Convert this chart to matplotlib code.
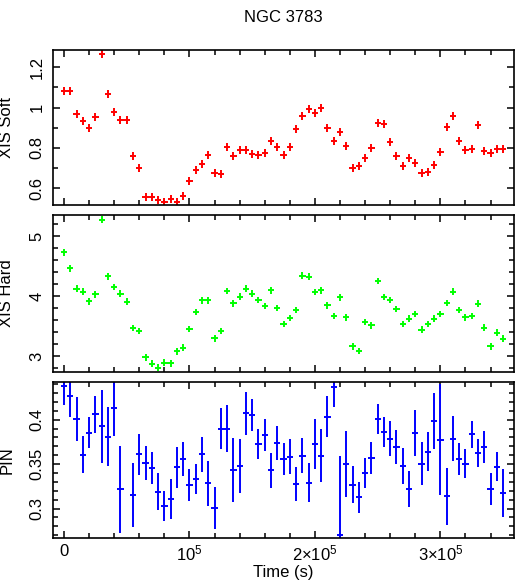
import numpy as np
import matplotlib
matplotlib.use('Agg')
import matplotlib.pyplot as plt
import matplotlib.ticker as ticker

# -------------------- Dados --------------------
# bins de 5 ks, de 0 a 350 ks
time_bin = 5000
n_bins = 71
time = np.arange(n_bins) * time_bin

xis_soft = [1.084, 1.084, 0.967, 0.934, 0.899, 0.955, 1.266, 1.066, 0.977, 0.939,
            0.939, 0.760, 0.701, 0.559, 0.559, 0.542, 0.531, 0.549, 0.534, 0.560,
            0.635, 0.689, 0.722, 0.764, 0.676, 0.673, 0.807, 0.760, 0.790, 0.790,
            0.772, 0.764, 0.775, 0.835, 0.803, 0.767, 0.807, 0.896, 0.960, 0.995,
            0.972, 0.997, 0.901, 0.836, 0.881, 0.812, 0.701, 0.712, 0.752, 0.798,
            0.924, 0.921, 0.828, 0.762, 0.712, 0.752, 0.726, 0.676, 0.681, 0.714,
            0.782, 0.902, 0.960, 0.835, 0.790, 0.793, 0.916, 0.787, 0.777, 0.793,
            0.793]
xis_soft_err = 0.02

xis_hard = [4.729, 4.464, 4.122, 4.077, 3.912, 4.028, 5.271, 4.331, 4.149, 4.039,
            3.906, 3.470, 3.420, 2.983, 2.878, 2.812, 2.895, 2.884, 3.083, 3.144,
            3.453, 3.735, 3.928, 3.928, 3.298, 3.420, 4.083, 3.878, 3.994, 4.127,
            4.044, 3.934, 3.834, 4.094, 3.801, 3.536, 3.635, 3.768, 4.343, 4.326,
            4.072, 4.094, 3.845, 3.669, 3.978, 3.646, 3.166, 3.088, 3.569, 3.514,
            4.254, 3.983, 3.934, 3.785, 3.536, 3.624, 3.702, 3.442, 3.536, 3.624,
            3.702, 3.884, 4.077, 3.768, 3.646, 3.669, 3.873, 3.475, 3.166, 3.392,
            3.293]
xis_hard_err = 0.055

nan = np.nan
pin = [0.4379, 0.4267, 0.4008, 0.3606, 0.3854, 0.4060, 0.3925, 0.3809, 0.4135, 0.3219,
       nan, 0.3148, 0.3610, 0.3512, 0.3452, 0.3189, 0.3032, 0.3107, 0.3463, 0.3557,
       0.3268, 0.3332, 0.3610, 0.3283, 0.3005, 0.3899, 0.3899, 0.3437, 0.3478, 0.4071,
       0.4053, 0.3726, 0.3824, 0.3429, 0.3733, 0.3561, 0.3583, 0.3276, 0.3595, 0.3291,
       0.3722, 0.3595, 0.4034, 0.4372, 0.2705, 0.3501, 0.3268, 0.3125, 0.3396, 0.3568,
       0.4011, 0.3861, 0.3786, 0.3692, 0.3478, 0.3223, 0.3850, 0.3505, 0.3640, 0.3985,
       0.3775, 0.3140, 0.3786, 0.3557, 0.3505, 0.3835, 0.3625, 0.3692, 0.3223, 0.3471,
       0.3170]
pin_err = [0.021, 0.024, 0.025, 0.021, 0.017, 0.021, 0.041, 0.033, 0.032, 0.049,
           nan, 0.036, 0.023, 0.019, 0.018, 0.021, 0.017, 0.022, 0.023, 0.019,
           0.018, 0.017, 0.020, 0.025, 0.024, 0.023, 0.026, 0.036, 0.030, 0.024,
           0.018, 0.017, 0.018, 0.020, 0.019, 0.018, 0.020, 0.019, 0.020, 0.022,
           0.028, 0.030, 0.023, 0.023, 0.089, 0.037, 0.021, 0.017, 0.017, 0.018,
           0.017, 0.017, 0.020, 0.019, 0.020, 0.020, 0.026, 0.024, 0.022, 0.031,
           0.062, 0.032, 0.025, 0.018, 0.016, 0.015, 0.016, 0.018, 0.018, 0.016,
           0.027]

x_ticks = [0, 1e5, 2e5, 3e5]
x_tick_labels = ['0', '$10^5$', '2×$10^5$', '3×$10^5$']

# -------------------- Estilo --------------------
plt.rcParams['font.family'] = ['Liberation Sans', 'DejaVu Sans']
plt.rcParams['mathtext.fontset'] = 'custom'
plt.rcParams['mathtext.rm'] = 'Liberation Sans'
plt.rcParams['mathtext.it'] = 'Liberation Sans:italic'
plt.rcParams['font.size'] = 12

fig = plt.figure(figsize=(5.17, 5.81), dpi=100)

left, width = 53 / 517, 461 / 517
ax1 = fig.add_axes([left, 1 - 205 / 581, width, 155 / 581])
ax2 = fig.add_axes([left, 1 - 372 / 581, width, 157 / 581])
ax3 = fig.add_axes([left, 1 - 538 / 581, width, 156 / 581])

paineis = [
    (ax1, xis_soft, xis_soft_err, '#ff0000', 'XIS Soft', (0.517, 1.286), 0.2, 0.1),
    (ax2, xis_hard, xis_hard_err, '#00ff00', 'XIS Hard', (2.74, 5.348), 1.0, 0.2),
    (ax3, pin, pin_err, '#0000ff', 'PIN', (0.2669, 0.4423), 0.05, 0.01),
]

for ax, y, yerr, cor, nome, ylim, major, minor in paineis:
    ax.errorbar(time, y, xerr=time_bin / 2, yerr=yerr, fmt='none',
                ecolor=cor, elinewidth=1.4, capsize=0)
    ax.set_xlim(-8800, 358700)
    ax.set_ylim(*ylim)
    ax.xaxis.set_major_locator(ticker.FixedLocator(x_ticks))
    ax.xaxis.set_minor_locator(ticker.MultipleLocator(2e4))
    ax.yaxis.set_major_locator(ticker.MultipleLocator(major))
    ax.yaxis.set_minor_locator(ticker.MultipleLocator(minor))
    ax.yaxis.set_major_formatter(ticker.FuncFormatter(lambda v, p: f'{v:g}'))
    ax.tick_params(which='both', direction='in', top=True, right=True, width=1.1)
    ax.tick_params(which='major', length=5)
    ax.tick_params(which='minor', length=3.5)
    ax.tick_params(axis='y', labelrotation=90, pad=6)
    for lab in ax.get_yticklabels():
        lab.set_va('center')
    for s in ax.spines.values():
        s.set_linewidth(1.2)
    # rótulo do eixo y
    pos = ax.get_position()
    fig.text(7 / 517, pos.y0 + pos.height / 2, nome, rotation=90,
             ha='center', va='center')

ax1.tick_params(axis='x', labelbottom=False)
ax2.tick_params(axis='x', labelbottom=False)
ax3.set_xticklabels(x_tick_labels)
ax3.tick_params(axis='x', pad=4)

fig.text(283 / 517, 1 - 17.5 / 581, 'NGC 3783', ha='center', va='center')
fig.text(283 / 517, 1 - 572 / 581, 'Time (s)', ha='center', va='center')

plt.savefig('out.png', dpi=100)
plt.close()
